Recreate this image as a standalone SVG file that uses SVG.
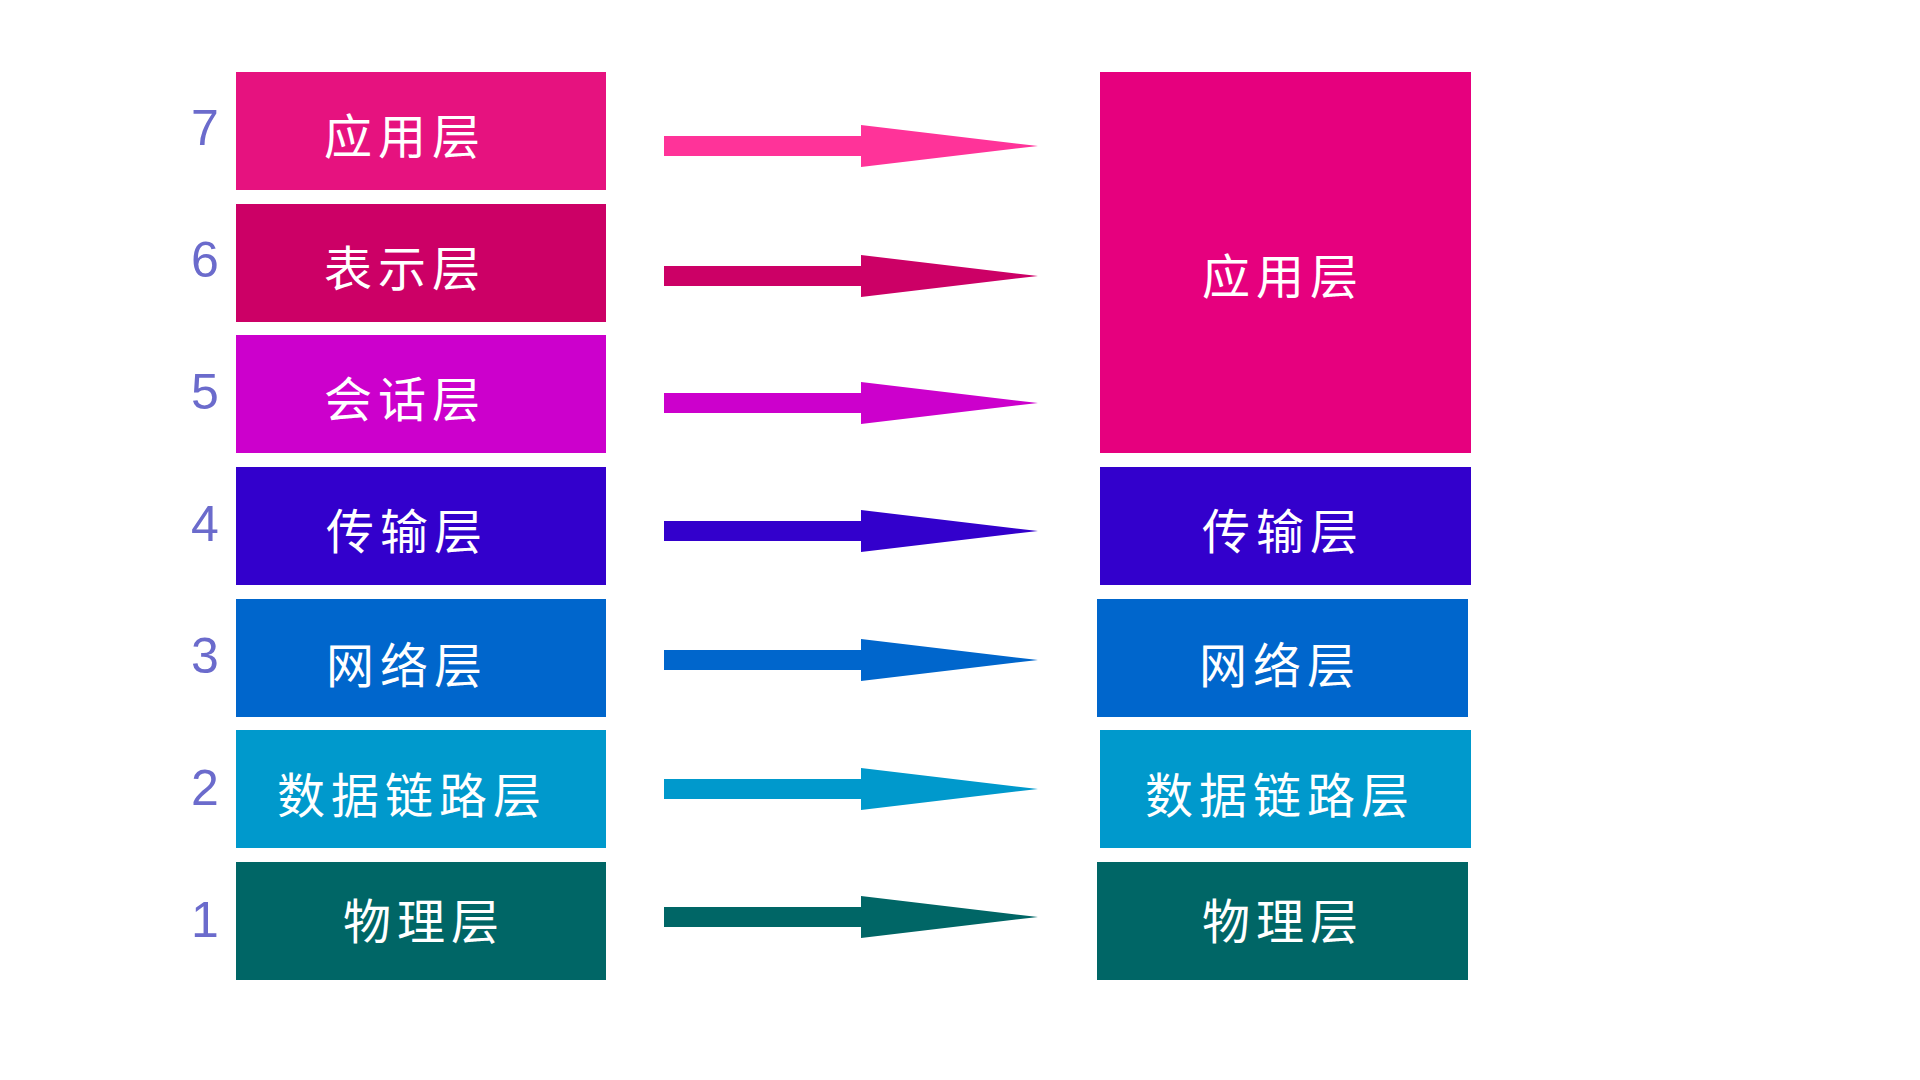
<svg xmlns="http://www.w3.org/2000/svg" width="1920" height="1080" viewBox="0 0 1920 1080">
<style>
.t{font-family:"Noto Sans CJK SC",sans-serif;font-size:48px;fill:#fff;text-anchor:middle;dominant-baseline:central;letter-spacing:6px}
.n{font-family:"Liberation Sans",sans-serif;font-size:50px;fill:#6b6bcc;text-anchor:middle;dominant-baseline:central}
</style>
<rect width="1920" height="1080" fill="#fff"/>
<g id="left">
<g id="l7"><rect x="236" y="72" width="370" height="118" fill="#e6127f"/><text class="t" x="405" y="133">应用层</text><text class="n" x="205" y="128">7</text></g>
<g id="l6"><rect x="236" y="204" width="370" height="118" fill="#cc0066"/><text class="t" x="405" y="265">表示层</text><text class="n" x="205" y="260">6</text></g>
<g id="l5"><rect x="236" y="335" width="370" height="118" fill="#cc00cc"/><text class="t" x="405" y="396">会话层</text><text class="n" x="205" y="392">5</text></g>
<g id="l4"><rect x="236" y="467" width="370" height="118" fill="#3300cc"/><text class="t" x="407" y="528">传输层</text><text class="n" x="205" y="524">4</text></g>
<g id="l3"><rect x="236" y="599" width="370" height="118" fill="#0066cc"/><text class="t" x="407" y="662">网络层</text><text class="n" x="205" y="656">3</text></g>
<g id="l2"><rect x="236" y="730" width="370" height="118" fill="#0099cc"/><text class="t" x="412" y="792">数据链路层</text><text class="n" x="205" y="788">2</text></g>
<g id="l1"><rect x="236" y="862" width="370" height="118" fill="#006666"/><text class="t" x="424" y="918">物理层</text><text class="n" x="205" y="920">1</text></g>
</g>
<g id="right">
<g id="r7"><rect x="1100" y="72" width="371" height="381" fill="#e6007e"/><text class="t" x="1283" y="273">应用层</text></g>
<g id="r4"><rect x="1100" y="467" width="371" height="118" fill="#3300cc"/><text class="t" x="1283" y="528">传输层</text></g>
<g id="r3"><rect x="1097" y="599" width="371" height="118" fill="#0066cc"/><text class="t" x="1280" y="662">网络层</text></g>
<g id="r2"><rect x="1100" y="730" width="371" height="118" fill="#0099cc"/><text class="t" x="1280" y="792">数据链路层</text></g>
<g id="r1"><rect x="1097" y="862" width="371" height="118" fill="#006666"/><text class="t" x="1283" y="918">物理层</text></g>
</g>
<g id="connectors">
<polygon transform="translate(0,146)" points="664,-10 861,-10 861,-21 1038,0 861,21 861,10 664,10" fill="#ff3399"/>
<polygon transform="translate(0,276)" points="664,-10 861,-10 861,-21 1038,0 861,21 861,10 664,10" fill="#cc0066"/>
<polygon transform="translate(0,403)" points="664,-10 861,-10 861,-21 1038,0 861,21 861,10 664,10" fill="#cc00cc"/>
<polygon transform="translate(0,531)" points="664,-10 861,-10 861,-21 1038,0 861,21 861,10 664,10" fill="#3300cc"/>
<polygon transform="translate(0,660)" points="664,-10 861,-10 861,-21 1038,0 861,21 861,10 664,10" fill="#0066cc"/>
<polygon transform="translate(0,789)" points="664,-10 861,-10 861,-21 1038,0 861,21 861,10 664,10" fill="#0099cc"/>
<polygon transform="translate(0,917)" points="664,-10 861,-10 861,-21 1038,0 861,21 861,10 664,10" fill="#006666"/>
</g>
</svg>
